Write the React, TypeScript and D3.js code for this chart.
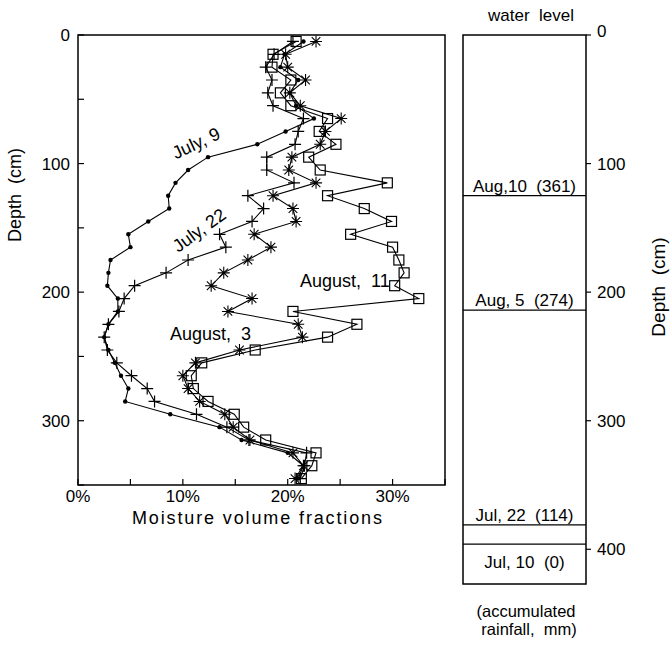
import React from 'react'
import * as d3 from 'd3'

// depth of each sample (cm)
const depths = [5, 15, 25, 35, 45, 55, 65, 75, 85, 95, 105, 115, 125, 135, 145, 155, 165, 175,
  185, 195, 205, 215, 225, 235, 245, 255, 265, 275, 285, 295, 305, 315, 325, 335, 345]

// moisture volume fractions (%)
const july9 = [21.5, 19.7, 19.3, 21.0, 20.2, 20.8, 22.5, 19.8, 17.1, 12.4, 10.5, 9.3, 8.6, 8.7, 6.7, 4.8, 5.0, 3.1,
  2.9, 2.8, 3.8, 3.8, 2.9, 2.5, 2.9, 3.5, 4.1, 4.8, 4.5, 8.8, 13.5, 15.6, 20.0, 21.5, 21.0]
const july22 = [20.5, 18.7, 17.9, 18.5, 18.1, 18.6, 21.5, 21.0, 20.7, 18.0, 18.0, 20.6, 16.2, 17.7, 16.6, 13.5, 14.1, 10.5,
  8.4, 5.4, 4.4, 3.9, 2.9, 2.5, 2.8, 3.7, 5.1, 6.6, 7.3, 11.3, 14.2, 16.3, 21.8, 21.6, 21.2]
const august3 = [22.7, 19.8, 20.0, 21.7, 20.2, 21.2, 25.1, 23.6, 23.1, 20.4, 20.1, 22.7, 18.6, 20.5, 20.8, 16.8, 18.4, 16.2,
  13.9, 12.7, 16.6, 14.3, 21.0, 21.4, 15.4, 11.2, 10.0, 10.5, 11.6, 14.0, 14.8, 16.4, 20.5, 21.5, 20.7]
const august11 = [20.8, 18.6, 18.5, 20.3, 19.3, 20.3, 23.8, 23.0, 24.6, 22.0, 23.1, 29.5, 23.8, 27.3, 29.9, 26.0, 30.0, 30.6,
  31.1, 30.2, 32.5, 20.5, 26.6, 23.8, 16.9, 11.8, 10.8, 11.0, 12.4, 14.9, 15.8, 17.9, 22.7, 22.3, 21.3]

// water level panel
const levelLabels = ['Aug,10  (361)', 'Aug, 5  (274)', 'Jul, 22  (114)', 'Jul, 10  (0)']
const levelDepths = [125, 214, 381, 396]

const xTicks = [0, 5, 10, 15, 20, 25, 30, 35]
const xLabels = [0, 10, 20, 30]
const yTicks = [0, 50, 100, 150, 200, 250, 300, 350]
const yLabels = [0, 100, 200, 300]
const rTicks = [0, 100, 200, 300, 400]

const font = '"Liberation Sans", Arial, Helvetica, sans-serif'

const Marker = ({ kind, x, y }: { kind: string; x: number; y: number }) => {
  if (kind === 'dot') return <circle cx={x} cy={y} r={2.2} fill="#000" />
  if (kind === 'plus') return <path d={`M${x - 6},${y}H${x + 6}M${x},${y - 6}V${y + 6}`} stroke="#000" strokeWidth={1.2} />
  if (kind === 'star') {
    const s = 6, t = 4.3
    return <path d={`M${x - s},${y}H${x + s}M${x},${y - s}V${y + s}M${x - t},${y - t}L${x + t},${y + t}M${x - t},${y + t}L${x + t},${y - t}`} stroke="#000" strokeWidth={1.1} />
  }
  return <rect x={x - 5} y={y - 5} width={10} height={10} fill="none" stroke="#000" strokeWidth={1.2} />
}

export default function App() {
  const x = d3.scaleLinear().domain([0, 35]).range([78, 445])
  const y = d3.scaleLinear().domain([0, 350]).range([35, 485])
  const yr = d3.scaleLinear().domain([0, 427]).range([35, y(427)])
  const rx0 = 463, rx1 = 586

  const series = [
    { name: 'July, 9', values: july9, kind: 'dot' },
    { name: 'July, 22', values: july22, kind: 'plus' },
    { name: 'August, 3', values: august3, kind: 'star' },
    { name: 'August, 11', values: august11, kind: 'square' },
  ]
  const line = d3.line<[number, number]>().x(d => x(d[0])).y(d => y(d[1]))

  return (
    <svg width={670} height={650} style={{ position: 'absolute', left: 0, top: 0, background: '#fff' }} fontFamily={font}>
      {/* left panel */}
      {series.map(s => (
        <path key={s.name} d={line(s.values.map((v, i) => [v, depths[i]] as [number, number])) || ''}
          fill="none" stroke="#000" strokeWidth={1.1} />
      ))}
      {series.map(s => s.values.map((v, i) => (
        <Marker key={s.name + i} kind={s.kind} x={x(v)} y={y(depths[i])} />
      )))}
      <rect x={x(0)} y={y(0)} width={x(35) - x(0)} height={y(350) - y(0)} fill="none" stroke="#000" strokeWidth={1.5} />
      {yTicks.map(t => <line key={'yt' + t} x1={x(0)} x2={x(0) + 6} y1={y(t)} y2={y(t)} stroke="#000" strokeWidth={1.2} />)}
      {yLabels.map(t => (
        <text key={'yl' + t} x={70} y={y(t)} dy="0.35em" textAnchor="end" fontSize={17}>{t}</text>
      ))}
      {xTicks.map(t => <line key={'xt' + t} x1={x(t)} x2={x(t)} y1={y(350)} y2={y(350) - 6} stroke="#000" strokeWidth={1.2} />)}
      {xLabels.map(t => (
        <text key={'xl' + t} x={x(t)} y={502} textAnchor="middle" fontSize={17}>{t}%</text>
      ))}
      <text x={257} y={524} textAnchor="middle" fontSize={18} textLength={250} lengthAdjust="spacing">Moisture volume fractions</text>
      <text transform="translate(21,195) rotate(-90)" textAnchor="middle" fontSize={18} style={{ whiteSpace: 'pre' }}>Depth  (cm)</text>

      {/* curve labels */}
      <text transform="translate(196,143) rotate(-25)" textAnchor="middle" dy="0.35em" fontSize={18}>July, 9</text>
      <text transform="translate(199,230) rotate(-36)" textAnchor="middle" dy="0.35em" fontSize={18}>July, 22</text>
      <text x={170} y={340} fontSize={18} style={{ whiteSpace: 'pre' }}>August,  3</text>
      <text x={300} y={287} fontSize={18} style={{ whiteSpace: 'pre' }}>August,  11</text>

      {/* right panel */}
      <rect x={rx0} y={yr(0)} width={rx1 - rx0} height={yr(427) - yr(0)} fill="none" stroke="#000" strokeWidth={1.5} />
      {levelDepths.map((d, i) => (
        <g key={'lv' + i}>
          <line x1={rx0} x2={rx1} y1={yr(d)} y2={yr(d)} stroke="#000" strokeWidth={1.3} />
          <text x={(rx0 + rx1) / 2} y={i === 3 ? yr(d) + 24 : yr(d) - 4} textAnchor="middle" fontSize={17}
            style={{ whiteSpace: 'pre' }}>{levelLabels[i]}</text>
        </g>
      ))}
      {rTicks.map(t => (
        <g key={'rt' + t}>
          <line x1={rx1} x2={rx1 + 5} y1={yr(t)} y2={yr(t)} stroke="#000" strokeWidth={1.2} />
          <text x={597} y={yr(t)} dy={t === 0 ? '0.1em' : '0.35em'} fontSize={17}>{t}</text>
        </g>
      ))}
      <text x={531} y={21} textAnchor="middle" fontSize={17} style={{ whiteSpace: 'pre' }}>water  level</text>
      <text x={526} y={617} textAnchor="middle" fontSize={16.5}>(accumulated</text>
      <text x={529} y={635} textAnchor="middle" fontSize={16.5} style={{ whiteSpace: 'pre' }}>rainfall,  mm)</text>
      <text transform="translate(665,287) rotate(-90)" textAnchor="middle" fontSize={19} style={{ whiteSpace: 'pre' }}>Depth  (cm)</text>
    </svg>
  )
}
